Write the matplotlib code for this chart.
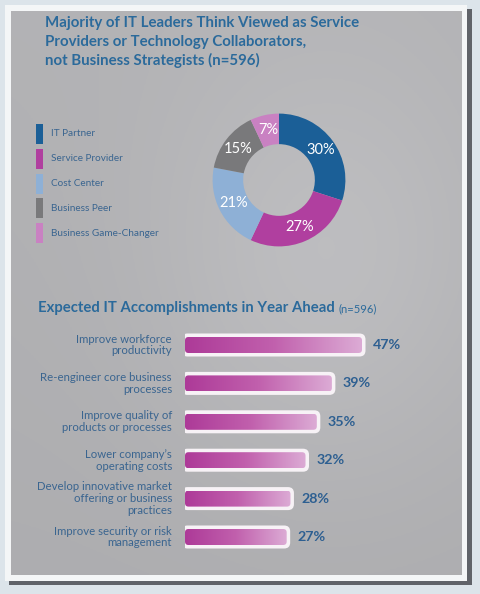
import matplotlib
matplotlib.use("Agg")
import matplotlib.pyplot as plt
import numpy as np
from matplotlib.patches import Rectangle, FancyBboxPatch
from matplotlib.colors import LinearSegmentedColormap

# ---------------- data ----------------
title_top = "Majority of IT Leaders Think Viewed as Service\nProviders or Technology Collaborators,\nnot Business Strategists (n=596)"
donut_labels = ["IT Partner", "Service Provider", "Cost Center", "Business Peer", "Business Game-Changer"]
donut_values = [30, 27, 21, 15, 7]
donut_colors = ["#1b5f97", "#b03f9f", "#8eb0d6", "#79797b", "#c981c2"]

bar_title = "Expected IT Accomplishments in Year Ahead"
bar_title_n = "(n=596)"
bar_labels = [
    "Improve workforce\nproductivity",
    "Re-engineer core business\nprocesses",
    "Improve quality of\nproducts or processes",
    "Lower company\u2019s\noperating costs",
    "Develop innovative market\noffering or business\npractices",
    "Improve security or risk\nmanagement",
]
bar_values = [47, 39, 35, 32, 28, 27]

W, H = 480, 594
FONT = "Lato"
BLUE = "#2b6a9b"
TXT = "#3a6590"

fig = plt.figure(figsize=(W / 100, H / 100), dpi=100)
fig.patch.set_facecolor("#dce4ea")

def fx(x):
    return x / W

def fy(y):
    return 1 - y / H

# ---------------- frame / panel ----------------
bg = fig.add_axes([0, 0, 1, 1])
bg.set_xlim(0, W)
bg.set_ylim(H, 0)
bg.axis("off")
bg.add_patch(Rectangle((9, 9), 463, 576, facecolor="#4a4d52", edgecolor="none", alpha=0.85))
bg.add_patch(Rectangle((5, 5), 462, 576, facecolor="#f4f6f7", edgecolor="none"))
gx = np.linspace(0, 1, 200)
gy = np.linspace(0, 1, 200)
GX, GY = np.meshgrid(gx, gy)
shade = 0.70 + 0.05 * np.exp(-((GX - 0.7) ** 2 + (GY - 0.45) ** 2) / 0.15) - 0.02 * GY
panel_rgb = np.dstack([shade, shade, shade + 0.01])
bg.imshow(np.clip(panel_rgb, 0, 1), extent=(11, 462, 575, 11), aspect="auto", zorder=1)

# ---------------- title ----------------
for i, line in enumerate(title_top.split("\n")):
    fig.text(fx(45), fy(27 + i * 19), line, ha="left", va="baseline", fontsize=10.8,
             fontweight="bold", color=BLUE, family=FONT)

# ---------------- donut ----------------
cx, cy, R = 279, 180, 83
dax = fig.add_axes([fx(cx - R), fy(cy + R), 2 * R / W, 2 * R / H])
dax.set_xlim(-1, 1)
dax.set_ylim(-1, 1)
dax.axis("off")
wedges, _, autotexts = dax.pie(
    donut_values, colors=donut_colors, startangle=90, counterclock=False, radius=1,
    wedgeprops=dict(width=0.46, edgecolor="none"),
    autopct=lambda p: f"{p:.0f}%", pctdistance=0.77,
    textprops=dict(color="white", fontsize=10.5, family=FONT),
)

# legend
for i, (lab, col) in enumerate(zip(donut_labels, donut_colors)):
    yc = 134 + i * 24.8
    fig.patches.append(Rectangle((fx(36), fy(yc + 10)), 7 / W, 20 / H,
                                 transform=fig.transFigure, facecolor=col,
                                 edgecolor="none", figure=fig))
    fig.text(fx(51), fy(yc), lab, ha="left", va="center", fontsize=7.2,
             color=TXT, family=FONT)

# ---------------- bar title ----------------
t1 = fig.text(fx(38), fy(312), bar_title, ha="left", va="baseline", fontsize=10.7,
              fontweight="bold", color=BLUE, family=FONT)
fig.canvas.draw()
bb = t1.get_window_extent()
fig.text((bb.x1 + 4) / W, fy(312), bar_title_n, ha="left", va="baseline", fontsize=8,
         color=BLUE, family=FONT)

# ---------------- bars ----------------
x0 = 185
px_per_unit = (362 - 185) / 47
y_first, y_last = 345, 537
step = (y_last - y_first) / 5
top_px = y_first - step / 2
bot_px = y_last + step / 2
bax = fig.add_axes([fx(x0), fy(bot_px), (W - x0) / W, (bot_px - top_px) / H])
bax.set_xlim(0, (W - x0) / px_per_unit)
bax.set_ylim(5.5, -0.5)
bax.axis("off")
bax.patch.set_visible(False)

sx = px_per_unit
sy = step
ypos = np.arange(len(bar_values))
inner_h = 16 / sy
bars = bax.barh(ypos, bar_values, height=inner_h, color="none", edgecolor="none")

cmap = LinearSegmentedColormap.from_list("mg", ["#ad3a98", "#c160ad", "#dcabd5"])
grad = np.linspace(0, 1, 256).reshape(1, -1)

for b, v in zip(bars, bar_values):
    x, y, w, h = b.get_x(), b.get_y(), b.get_width(), b.get_height()
    padx, pady = 3.5 / sx, 3.5 / sy
    outer = FancyBboxPatch((x - padx, y - pady), w + 2 * padx, h + 2 * pady,
                           boxstyle=f"round,pad=0,rounding_size={6 / sx}",
                           mutation_aspect=sx / sy, facecolor="#f7f2f6",
                           edgecolor="none", zorder=2)
    bax.add_patch(outer)
    inner = FancyBboxPatch((x, y), w, h,
                           boxstyle=f"round,pad=0,rounding_size={3.5 / sx}",
                           mutation_aspect=sx / sy, facecolor="none",
                           edgecolor="none", zorder=3)
    bax.add_patch(inner)
    im = bax.imshow(grad, cmap=cmap, extent=(x, x + w, y + h, y), aspect="auto",
                    zorder=3, interpolation="bilinear")
    im.set_clip_path(inner)
    bax.text(x + w + 11 / sx, y + h / 2, f"{v}%", ha="left", va="center",
             fontsize=10.3, fontweight="bold", color="#2d5f91", family=FONT, zorder=4)

for yy, lab in zip(ypos, bar_labels):
    bax.text(-13 / sx, yy, lab, ha="right", va="center", fontsize=8.2,
             color=TXT, family=FONT, linespacing=1.1, clip_on=False)

bax.set_xlim(0, (W - x0) / px_per_unit)
bax.set_ylim(5.5, -0.5)

fig.savefig("out.png", dpi=100, facecolor=fig.get_facecolor())
